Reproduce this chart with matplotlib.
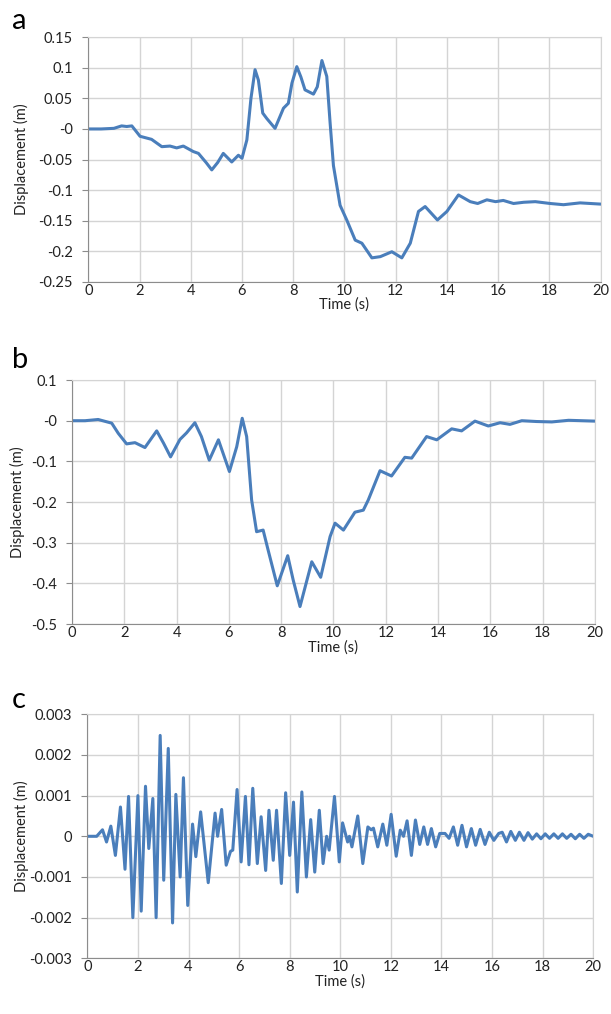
import matplotlib
matplotlib.use("Agg")
import matplotlib.pyplot as plt
import numpy as np

plt.rcParams['font.family'] = ['Lato', 'DejaVu Sans']
plt.rcParams['axes.unicode_minus'] = False

# panel a: displacement (m) vs time (s)
t_a = [0, 0.5, 1.0, 1.3, 1.5, 1.7, 2.02, 2.47, 2.87, 3.19, 3.45, 3.71, 4.1, 4.3,
       4.6, 4.82, 5.05, 5.27, 5.6, 5.86, 6.0, 6.19, 6.35, 6.51, 6.64, 6.81, 6.97,
       7.29, 7.62, 7.81, 7.95, 8.14, 8.3, 8.46, 8.79, 8.94, 9.12, 9.31, 9.44, 9.57,
       9.83, 10.09, 10.42, 10.68, 11.07, 11.4, 11.85, 12.24, 12.57, 12.89, 13.15,
       13.63, 14.0, 14.45, 14.91, 15.2, 15.56, 15.9, 16.2, 16.6, 17.0, 17.45, 18.03,
       18.55, 19.2, 20]
d_a = [0, 0, 0.001, 0.005, 0.004, 0.005, -0.012, -0.017, -0.029, -0.028, -0.031,
       -0.028, -0.037, -0.04, -0.055, -0.067, -0.055, -0.04, -0.054, -0.043, -0.048,
       -0.018, 0.05, 0.097, 0.08, 0.026, 0.017, 0.001, 0.034, 0.042, 0.075, 0.102,
       0.085, 0.064, 0.057, 0.069, 0.112, 0.086, 0.01, -0.06, -0.125, -0.149, -0.182,
       -0.187, -0.211, -0.209, -0.201, -0.211, -0.187, -0.135, -0.127, -0.149, -0.135,
       -0.108, -0.119, -0.122, -0.116, -0.119, -0.117, -0.122, -0.12, -0.119, -0.122,
       -0.124, -0.121, -0.123]

# panel b
t_b = [0, 0.5, 1.0, 1.52, 1.77, 2.09, 2.41, 2.79, 3.24, 3.5, 3.77, 4.13, 4.38, 4.7,
       4.95, 5.25, 5.6, 6.02, 6.3, 6.51, 6.68, 6.87, 7.06, 7.31, 7.5, 7.85, 8.25,
       8.46, 8.72, 9.17, 9.51, 9.87, 10.06, 10.38, 10.82, 11.14, 11.33, 11.78, 12.22,
       12.73, 12.99, 13.56, 13.95, 14.52, 14.9, 15.41, 15.92, 16.37, 16.75, 17.2,
       17.77, 18.35, 18.99, 20]
d_b = [0, 0, 0.003, -0.006, -0.031, -0.057, -0.054, -0.066, -0.025, -0.055, -0.089,
       -0.046, -0.03, -0.005, -0.039, -0.097, -0.047, -0.125, -0.064, 0.006, -0.039,
       -0.195, -0.273, -0.269, -0.318, -0.406, -0.332, -0.392, -0.457, -0.347, -0.385,
       -0.285, -0.252, -0.269, -0.225, -0.22, -0.195, -0.123, -0.136, -0.09, -0.092,
       -0.039, -0.047, -0.02, -0.025, -0.001, -0.013, -0.005, -0.009, 0, -0.002,
       -0.003, 0.001, -0.001]

# panel c (values in units of 0.001 m)
t_c = [0, 0.37, 0.6, 0.76, 0.93, 1.11, 1.31, 1.49, 1.63, 1.8, 2.0, 2.13, 2.3, 2.43,
       2.59, 2.72, 2.88, 3.02, 3.2, 3.37, 3.5, 3.67, 3.8, 3.97, 4.16, 4.29, 4.48,
       4.78, 5.05, 5.15, 5.31, 5.49, 5.66, 5.75, 5.92, 6.08, 6.25, 6.39, 6.54, 6.72,
       6.87, 7.05, 7.18, 7.35, 7.48, 7.67, 7.84, 8.0, 8.15, 8.3, 8.48, 8.66, 8.83,
       8.99, 9.17, 9.32, 9.46, 9.56, 9.77, 9.96, 10.09, 10.29, 10.36, 10.46, 10.69,
       10.89, 11.09, 11.22, 11.31, 11.48, 11.68, 11.84, 12.01, 12.21, 12.37, 12.5,
       12.64, 12.81, 12.97, 13.14, 13.3, 13.45, 13.6, 13.77, 13.93, 14.14, 14.3,
       14.47, 14.64, 14.81, 14.99, 15.18, 15.35, 15.53, 15.72, 15.89, 16.07, 16.26,
       16.4, 16.57, 16.74, 16.92, 17.08, 17.26, 17.42, 17.59, 17.76, 17.93, 18.1,
       18.27, 18.44, 18.61, 18.78, 18.95, 19.12, 19.29, 19.46, 19.63, 19.8, 20]
d_c = [0, 0, 0.16, -0.14, 0.25, -0.47, 0.72, -0.81, 0.98, -2.0, 1.0, -1.84, 1.23,
       -0.3, 0.93, -2.0, 2.48, -1.08, 2.16, -2.13, 1.03, -1.0, 1.44, -1.7, 0.3, -0.5,
       0.6, -1.14, 0.57, 0, 0.66, -0.71, -0.37, -0.34, 1.15, -0.63, 0.98, -0.7, 1.18,
       -0.67, 0.48, -0.84, 0.64, -0.59, 0.64, -1.16, 1.07, -0.47, 0.84, -1.37, 1.09,
       -1.0, 0.41, -0.88, 0.64, -0.67, 0, -0.34, 0.98, -0.63, 0.33, -0.14, 0, -0.26,
       0.5, -0.67, 0.23, 0.16, 0.2, -0.26, 0.3, -0.22, 0.54, -0.49, 0.15, 0, 0.38,
       -0.47, 0.4, -0.2, 0.23, -0.2, 0.19, -0.26, 0.07, 0.07, -0.05, 0.23, -0.22,
       0.27, -0.26, 0.19, -0.22, 0.17, -0.2, 0.1, -0.1, 0.07, 0.1, -0.14, 0.12, -0.1,
       0.1, -0.1, 0.09, -0.07, 0.06, -0.06, 0.06, -0.05, 0.06, -0.05, 0.06, -0.05,
       0.05, -0.06, 0.05, -0.05, 0.05, 0]
d_c = [v * 0.001 for v in d_c]

line_color = '#4a7ebb'
grid_color = '#d4d4d4'
axis_color = '#8c8c8c'
text_color = '#222222'

fig = plt.figure(figsize=(6.11, 10.14), dpi=100)

panels = [
    ("a", [0.1445, 0.7222, 0.8385, 0.2410], t_a, d_a, (-0.25, 0.15), 0.05, -0.115),
    ("b", [0.1178, 0.3846, 0.8560, 0.2406], t_b, d_b, (-0.5, 0.1), 0.1, -0.09),
    ("c", [0.1429, 0.0549, 0.8281, 0.2407], t_c, d_c, (-0.003, 0.003), 0.001, -0.115),
]
letter_y = [0.992, 0.658, 0.322]

for i, (name, rect, t, d, ylim, step, lab_x) in enumerate(panels):
    ax = fig.add_axes(rect)
    ax.plot(t, d, color=line_color, lw=2.2, solid_joinstyle='round')
    ax.set_xlim(0, 20)
    ax.set_ylim(*ylim)
    ax.set_xticks(np.arange(0, 21, 2))
    yt = np.round(np.arange(ylim[0], ylim[1] + step / 2, step), 4)
    ax.set_yticks(yt)
    ax.set_yticklabels(['%g' % v for v in yt])
    ax.grid(True, color=grid_color, lw=1.0)
    ax.set_axisbelow(True)
    for s in ['top', 'right']:
        ax.spines[s].set_color(grid_color)
    for s in ['left', 'bottom']:
        ax.spines[s].set_color(axis_color)
        ax.spines[s].set_linewidth(0.8)
    ax.tick_params(axis='y', length=4, color=axis_color, labelsize=10.5,
                   labelcolor=text_color, pad=7)
    ax.tick_params(axis='x', length=0, labelsize=10.5, labelcolor=text_color, pad=1.5)
    ax.set_xlabel("Time (s)", fontsize=10.5, labelpad=0, color=text_color)
    ax.set_ylabel("Displacement (m)", fontsize=10.5, color=text_color)
    ax.yaxis.set_label_coords(lab_x, 0.5)
    fig.text(0.02, letter_y[i], name, fontsize=21, va='top', ha='left')

plt.savefig("out.png", dpi=100)
